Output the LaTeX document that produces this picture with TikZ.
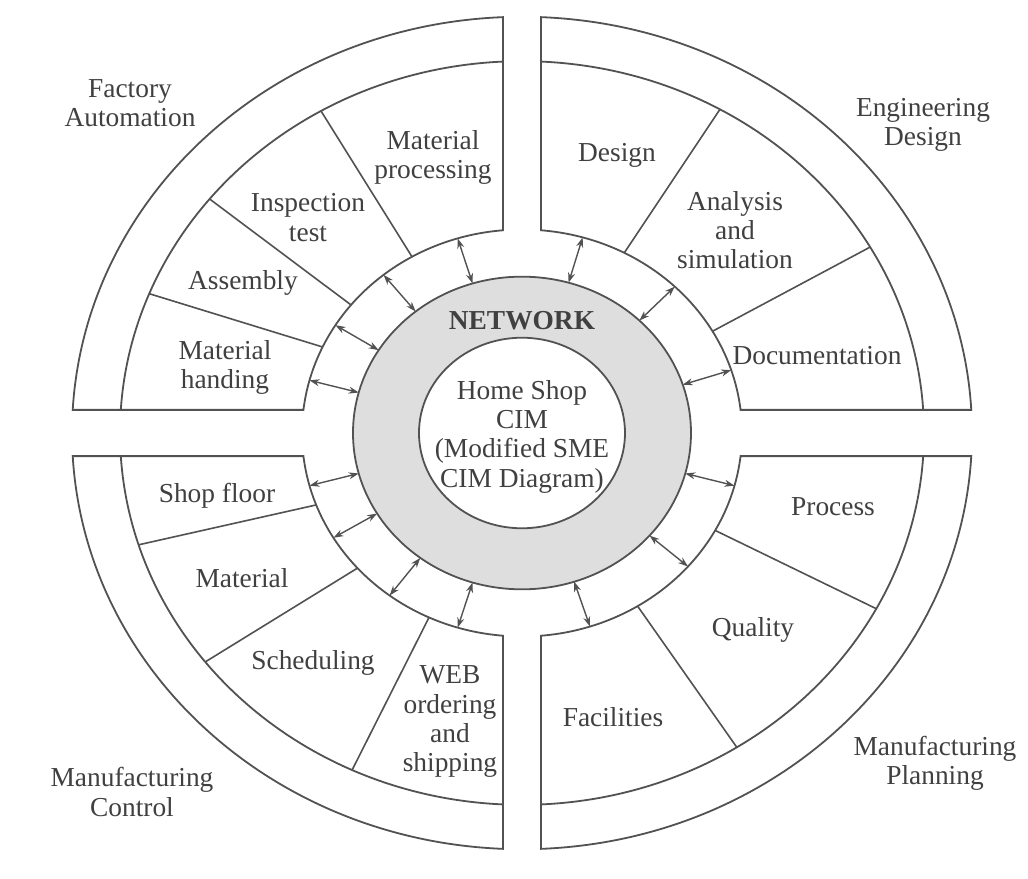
\documentclass[tikz,border=0pt]{standalone}
\usepackage{fontspec}
\setmainfont{Liberation Serif}
\usetikzlibrary{arrows.meta}

\begin{document}
\begin{tikzpicture}[
  x=0.5pt, y=0.5pt, yscale=0.925,
  every node/.style={align=center, text=\colorisText,
    font=\fontsize{13.7}{14.6}\selectfont},
  quad/.style={draw=\colorisLine, line width=0.9pt, fill=white},
  divider/.style={draw=\colorisLine, line width=0.8pt},
  ring/.style={draw=\colorisLine, line width=0.9pt},
  link/.style={draw=\colorisLine, line width=0.7pt,
    arrows={Stealth[length=5pt,width=3.5pt]-Stealth[length=5pt,width=3.5pt]}},
]
%-------------------------------------------------------------
\newcommand{\colorisLine}{black!68}
\newcommand{\colorisText}{black!75}
\newcommand{\colorisNet}{black!13}

\useasboundingbox (-522,-481.1) rectangle (506,468.1);

%============================================================
% the four quarter rings
\draw[quad] (92.42:450) arc[start angle=92.42, end angle=176.815, radius=450]
  -- (173.475:220) arc[start angle=173.475, end angle=94.955, radius=220] -- cycle;
\draw[ring] (92.71:402) arc[start angle=92.71, end angle=176.435, radius=402];

\draw[quad] (87.58:450) arc[start angle=87.58, end angle=3.185, radius=450]
  -- (6.525:220) arc[start angle=6.525, end angle=85.045, radius=220] -- cycle;
\draw[ring] (87.29:402) arc[start angle=87.29, end angle=3.565, radius=402];

\draw[quad] (183.185:450) arc[start angle=183.185, end angle=267.58, radius=450]
  -- (265.045:220) arc[start angle=265.045, end angle=186.525, radius=220] -- cycle;
\draw[ring] (183.565:402) arc[start angle=183.565, end angle=267.29, radius=402];

\draw[quad] (272.42:450) arc[start angle=272.42, end angle=356.815, radius=450]
  -- (353.475:220) arc[start angle=353.475, end angle=274.955, radius=220] -- cycle;
\draw[ring] (272.71:402) arc[start angle=272.71, end angle=356.435, radius=402];

%============================================================
% dividers between the boxes
\draw[divider] (120:402) -- (120:220);
\draw[divider] (141:402) -- (141:220);
\draw[divider] (158:402) -- (155:220);

\draw[divider] (60.5:402) -- (62.3:220);
\draw[divider] (30:402) -- (30:220);

\draw[divider] (197.5:402) -- (200.7:220);
\draw[divider] (218:402) -- (221.6:220);
\draw[divider] (245:402) -- (245:220);

\draw[divider] (-28.2:402) -- (-28.6:220);
\draw[divider] (-57.7:402) -- (-58.3:220);

%============================================================
% network ring in the middle
\fill[\colorisNet] (0,0) circle (169);
\draw[ring] (0,0) circle (169);
\draw[ring, fill=white] (0,0) circle (103);

\node (net) at (0,122) {\bfseries NETWORK};
\node (cim) at (0,-4) {Home Shop\\CIM\\(Modified SME\\CIM Diagram)};

%============================================================
% links to the network
\draw[link] (107:220) -- (107:169);
\draw[link] (129:220) -- (129:169);
\draw[link] (148:220) -- (148:169);
\draw[link] (165:220) -- (165:169);

\draw[link] (74:220) -- (74:169);
\draw[link] (46:220) -- (46:169);
\draw[link] (18:220) -- (18:169);

\draw[link] (195:220) -- (195:169);
\draw[link] (211:220) -- (211:169);
\draw[link] (233:220) -- (233:169);
\draw[link] (253:220) -- (253:169);

\draw[link] (345:220) -- (345:169);
\draw[link] (319:220) -- (319:169);
\draw[link] (288:220) -- (288:169);

%============================================================
% labels
\node (fa) at (-392,357) {Factory\\Automation};
\node (fa1) at (-89,298) {Material\\processing};
\node (fa2) at (-214,233) {Inspection\\test};
\node (fa3) at (-279,162) {Assembly};
\node (fa4) at (-297,71) {Material\\handing};

\node (ed) at (401,333) {Engineering\\Design};
\node (ed1) at (95,300) {Design};
\node (ed2) at (213,219) {Analysis\\and\\simulation};
\node (ed3) at (295,84) {Documentation};

\node (mc) at (-390,-388) {Manufacturing\\Control};
\node (mc1) at (-305,-68) {Shop floor};
\node (mc2) at (-280,-157) {Material};
\node (mc3) at (-209,-249) {Scheduling};
\node (mc4) at (-72,-312) {WEB\\ordering\\and\\shipping};

\node (mp) at (413,-357) {Manufacturing\\Planning};
\node (mp1) at (311,-80) {Process};
\node (mp2) at (231,-213) {Quality};
\node (mp3) at (91,-307) {Facilities};

\end{tikzpicture}
\end{document}
